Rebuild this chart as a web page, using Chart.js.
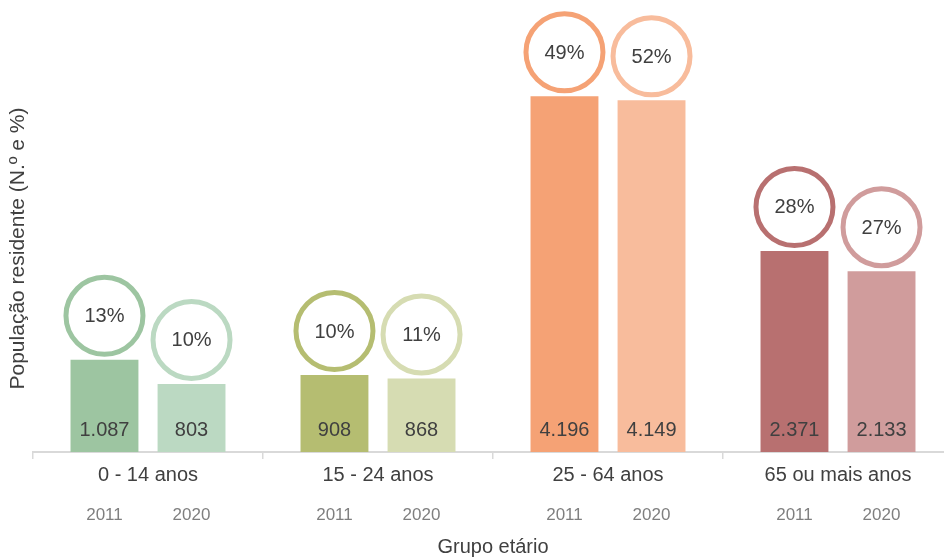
<!DOCTYPE html>
<html lang="pt">
<head>
<meta charset="utf-8">
<script src="https://cdn.jsdelivr.net/npm/chart.js@4"></script>
<style>
  html, body { margin: 0; padding: 0; background: #fff; overflow: hidden; }
  #wrap { width: 960px; height: 559px; }
</style>
</head>
<body>
<div id="wrap"><canvas id="chart"></canvas></div>
<script>
'use strict';

const GROUPS = ['0 - 14 anos', '15 - 24 anos', '25 - 64 anos', '65 ou mais anos'];
const YEARS = ['2011', '2020'];
const POP_2011 = [1087, 908, 4196, 2371];
const POP_2020 = [803, 868, 4149, 2133];
const PCT_2011 = [13, 10, 49, 28];
const PCT_2020 = [10, 11, 52, 27];

const COLORS_2011 = ['#9dc5a1', '#b5bd71', '#f5a275', '#b87070'];
const COLORS_2020 = ['#bbd9c2', '#d6dcb2', '#f8bc9c', '#d09c9c'];

const TEXT = '#404040';
const FONT = '"Liberation Sans", Arial, sans-serif';

const fmt = v => String(v).replace(/\B(?=(\d{3})+(?!\d))/g, '.');

const barDecorPlugin = {
  id: 'barDecor',
  afterDatasetsDraw(chart) {
    const { ctx } = chart;
    const xScale = chart.scales.x;
    ctx.save();
    chart.data.datasets.forEach((ds, di) => {
      const meta = chart.getDatasetMeta(di);
      meta.data.forEach((bar, i) => {
        // value inside the bar, near its base
        ctx.fillStyle = TEXT;
        ctx.font = `20px ${FONT}`;
        ctx.textAlign = 'center';
        ctx.textBaseline = 'middle';
        ctx.fillText(fmt(ds.data[i]), bar.x, bar.base - 22);

        // ring with the share above the bar
        const cy = bar.y - 44;
        ctx.beginPath();
        ctx.arc(bar.x, cy, 38.5, 0, Math.PI * 2);
        ctx.fillStyle = '#ffffff';
        ctx.fill();
        ctx.lineWidth = 5;
        ctx.strokeStyle = ds.backgroundColor[i];
        ctx.stroke();
        ctx.fillStyle = TEXT;
        ctx.fillText(`${ds.pct[i]}%`, bar.x, cy + 1);

        // year under the group label
        ctx.fillStyle = '#7f7f7f';
        ctx.font = `17px ${FONT}`;
        ctx.fillText(ds.label, bar.x, xScale.top + 63);
      });
    });
    ctx.restore();
  },
};

new Chart(document.getElementById('chart'), {
  type: 'bar',
  data: {
    labels: GROUPS,
    datasets: [
      { label: YEARS[0], data: POP_2011, pct: PCT_2011, backgroundColor: COLORS_2011 },
      { label: YEARS[1], data: POP_2020, pct: PCT_2020, backgroundColor: COLORS_2020 },
    ],
  },
  options: {
    responsive: true,
    maintainAspectRatio: false,
    animation: false,
    categoryPercentage: 0.757,
    barPercentage: 0.78,
    layout: { padding: { top: 45, right: 7, bottom: 0, left: 0 } },
    plugins: { legend: { display: false }, tooltip: { enabled: false } },
    scales: {
      x: {
        afterFit: s => { s.height = 107; },
        grid: { display: true, drawOnChartArea: false, offset: true, tickLength: 7, color: '#d9d9d9', lineWidth: 1.5 },
        border: { display: true, color: '#d9d9d9', width: 2 },
        ticks: { color: TEXT, padding: 4, font: { family: FONT, size: 20 } },
        title: {
          display: true,
          text: 'Grupo etário',
          color: TEXT,
          padding: { top: 0, bottom: 0 },
          font: { family: FONT, size: 20 },
        },
      },
      y: {
        min: 0,
        max: 4800,
        afterFit: s => { s.width = 33; },
        grid: { display: false },
        border: { display: false },
        ticks: { display: false },
        title: {
          display: true,
          text: 'População residente (N.º e %)',
          color: TEXT,
          padding: { top: 6, bottom: 4 },
          font: { family: FONT, size: 21 },
        },
      },
    },
  },
  plugins: [barDecorPlugin],
});
</script>
</body>
</html>
